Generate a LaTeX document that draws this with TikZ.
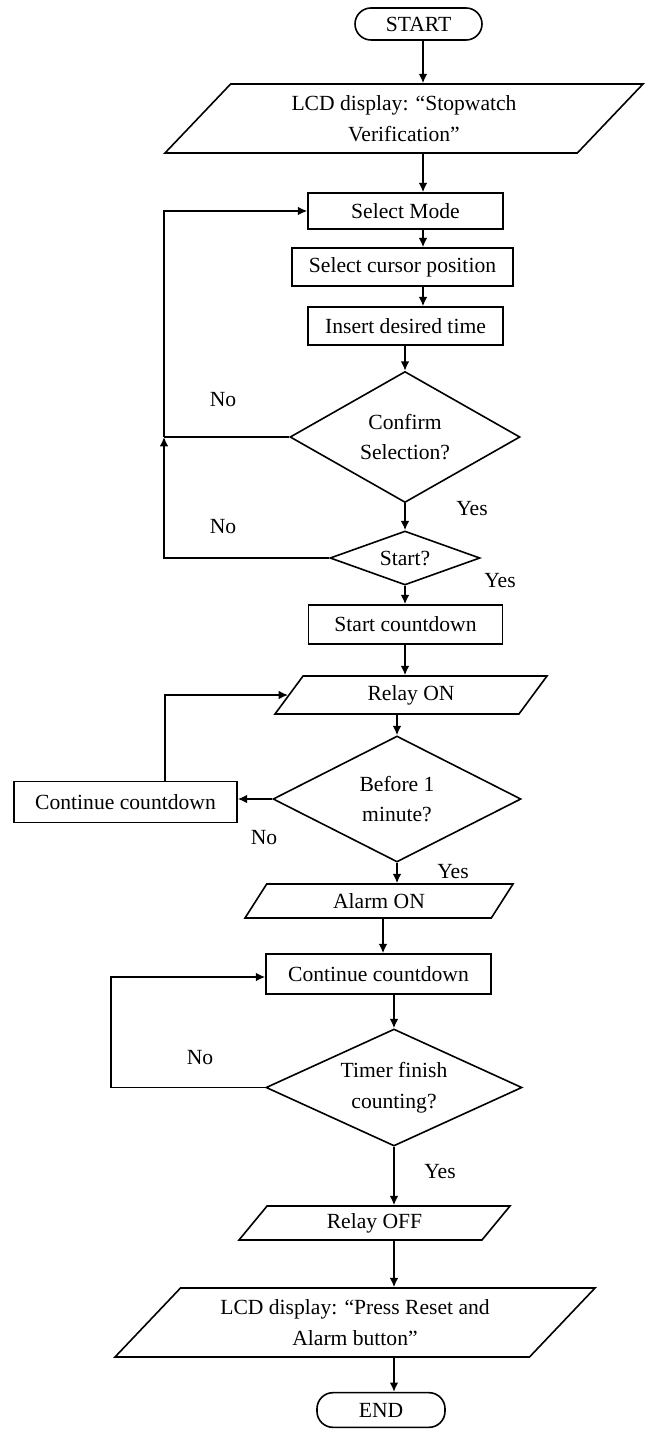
\documentclass[tikz,border=0pt]{standalone}
\usepackage{fontspec}
\setmainfont{Liberation Serif}
\usetikzlibrary{shapes.geometric,arrows.meta}

\tikzset{every picture/.style={line width=1.2pt}}
\tikzset{
  txt/.style={font=\fontsize{16.2}{23}\selectfont},
  term/.style={txt, draw, rectangle, rounded corners=12pt, inner sep=0pt},
  proc/.style={txt, draw, rectangle, inner sep=0pt},
  io/.style={txt, draw, trapezium, trapezium left angle=35, trapezium right angle=145,
    trapezium stretches body, inner sep=0pt, align=center},
  decis/.style={txt, draw, diamond, inner sep=0pt, align=center},
  arr/.style={-{Latex[length=7pt,width=6.5pt]}},
  lbl/.style={txt, inner sep=0.75pt}
}

\begin{document}
\begin{tikzpicture}[x=0.75pt,y=0.75pt,yscale=-1,xscale=1]
\useasboundingbox (0,0) rectangle (646,1430);

%Shape: Terminator
\node[term, minimum width=95.25pt, minimum height=24pt] (start) at (418.5,24) {START};
%Shape: Data
\node[io, minimum width=358.5pt, minimum height=51.75pt] (lcd1) at (404,118.5) {LCD display: “Stopwatch\\ Verification”};
%Shape: Rectangle
\node[proc, minimum width=146.25pt, minimum height=27pt] (mode) at (405.5,211) {Select Mode};
\node[proc, minimum width=165.75pt, minimum height=28.5pt] (cursor) at (402.5,267) {Select cursor position};
\node[proc, minimum width=146.25pt, minimum height=28.5pt] (insert) at (405.5,326) {Insert desired time};
%Shape: Diamond
\node[decis, aspect=1.76, minimum width=172.5pt, minimum height=98.25pt] (confirm) at (405,437) {Confirm\\ Selection?};
\node[decis, aspect=2.78, minimum width=112.5pt, minimum height=40.5pt] (startq) at (405,558) {Start?};
\node[proc, minimum width=145.5pt, minimum height=29.25pt] (count) at (405.5,624.5) {Start countdown};
\node[io, minimum width=204pt, minimum height=28.5pt] (relayon) at (411,695) {Relay ON};
\node[decis, aspect=1.97, minimum width=186pt, minimum height=94.5pt] (before) at (397,799) {Before 1\\ minute?};
\node[proc, minimum width=167.25pt, minimum height=30.75pt] (cont1) at (125.5,802) {Continue countdown};
\node[io, minimum width=201pt, minimum height=25.5pt] (alarmon) at (379,901) {Alarm ON};
\node[proc, minimum width=168.75pt, minimum height=30pt] (cont2) at (378.5,974) {Continue countdown};
\node[decis, aspect=2.19, minimum width=192pt, minimum height=87.75pt] (timer) at (394,1087.5) {Timer finish\\ counting?};
\node[io, minimum width=203.25pt, minimum height=25.5pt] (relayoff) at (374.5,1223) {Relay OFF};
\node[io, minimum width=360pt, minimum height=51.75pt] (lcd2) at (355,1322.5) {LCD display: “Press Reset and\\ Alarm button”};
\node[term, minimum width=96pt, minimum height=26pt] (end) at (381,1410) {END};

%Helper columns
\coordinate (colA) at (423,0);
\coordinate (colD) at (383,0);
\coordinate (noA) at (164,437);
\coordinate (loopB) at (165,0);
\coordinate (loopC) at (111,977);

%Straight Lines
\draw[arr] (start.south -| colA) -- (lcd1.north -| colA);
\draw[arr] (lcd1.south -| colA) -- (mode.north -| colA);
\draw[arr] (mode.south -| colA) -- (cursor.north -| colA);
\draw[arr] (cursor.south -| colA) -- (insert.north -| colA);
\draw[arr] (insert.south -| confirm.north) -- (confirm.north);
\draw[arr] (confirm.south) -- (startq.north);
\draw[arr] (startq.south) -- (startq.south |- count.north);
\draw[arr] (count.south -| startq.south) -- (relayon.north -| startq.south);
\draw[arr] (relayon.south -| before.north) -- (before.north);
\draw[arr] (before.south) -- (before.south |- alarmon.north);
\draw[arr] (alarmon.south -| colD) -- (cont2.north -| colD);
\draw[arr] (cont2.south -| timer.north) -- (timer.north);
\draw[arr] (timer.south) -- (timer.south |- relayoff.north);
\draw[arr] (relayoff.south -| timer.south) -- (lcd2.north -| timer.south);
\draw[arr] (lcd2.south -| timer.south) -- (end.north -| timer.south);

%Loops
\draw (confirm.west) -- (noA);
\draw[arr] (noA) |- (mode.west);
\draw[arr] (startq.west) -| (noA);
\draw[arr] (before.west) -- (before.west -| cont1.east);
\draw[arr] (cont1.north -| loopB) |- (relayon.west);
\draw[arr] (timer.west) -| (loopC) -- (loopC -| cont2.west);

% Text Node
\node[lbl] (no1) at (223,400) {No};
\node[lbl] (no2) at (223,527) {No};
\node[lbl] (yes1) at (472,509) {Yes};
\node[lbl] (yes2) at (500,581) {Yes};
\node[lbl] (no3) at (264,838) {No};
\node[lbl] (yes3) at (453,872) {Yes};
\node[lbl] (no4) at (200,1058) {No};
\node[lbl] (yes4) at (440,1172) {Yes};

\end{tikzpicture}
\end{document}
